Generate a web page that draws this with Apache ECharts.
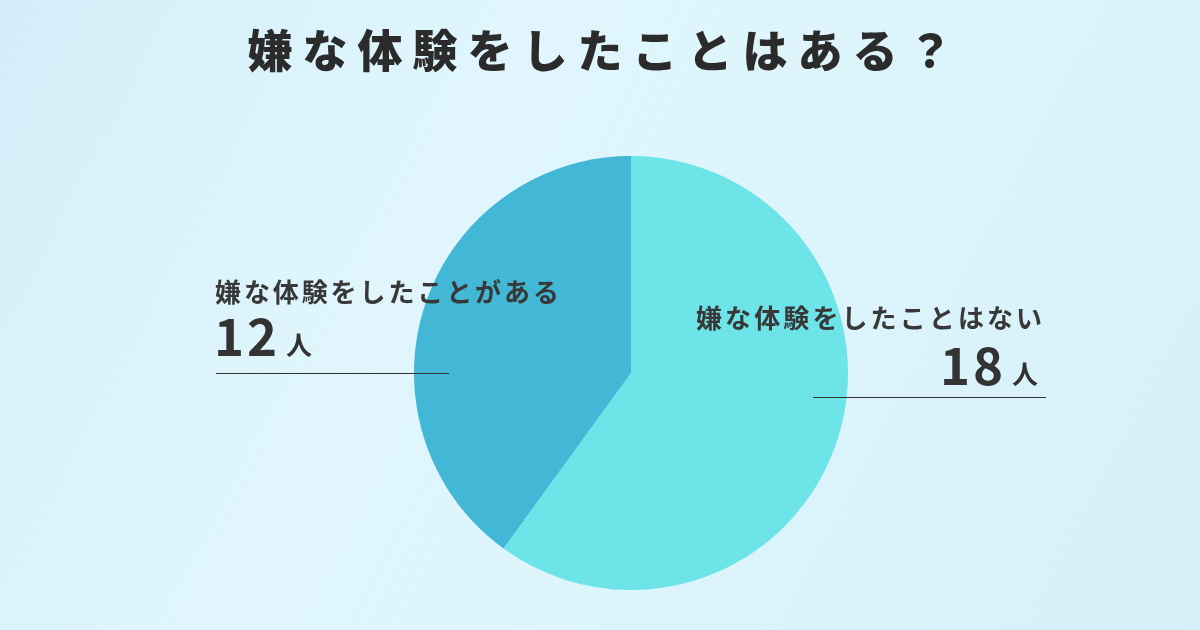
<!DOCTYPE html>
<html>
<head>
<meta charset="utf-8">
<script src="https://cdn.jsdelivr.net/npm/echarts@6/dist/echarts.min.js"></script>
<style>
html,body{margin:0;padding:0;background:#dcf3fa;}
#c{width:1200px;height:630px;}
</style>
</head>
<body>
<div id="c"></div>
<script>
const titleText = '嫌な体験をしたことはある？';
const categories = ['嫌な体験をしたことはない', '嫌な体験をしたことがある'];
const values = [18, 12];
const unit = '人';
const colors = ['#6ce4e8', '#42b8d6'];

function spaced(str, style) {
  return str.split('').map(ch => '{' + style + '|' + ch + '}').join('');
}

const FONT = '"Noto Sans CJK JP", "Noto Sans", sans-serif';
const chart = echarts.init(document.getElementById('c'), null, {renderer: 'canvas'});

const option = {
  backgroundColor: {
    type: 'linear', x: 0, y: 0, x2: 1, y2: 1,
    colorStops: [
      {offset: 0, color: '#d3eef9'},
      {offset: 0.35, color: '#e0f6fc'},
      {offset: 0.65, color: '#dcf4fb'},
      {offset: 1, color: '#d5eff9'}
    ]
  },
  animation: false,
  series: [{
    type: 'pie',
    center: [631, 373],
    radius: 217,
    startAngle: 90,
    clockwise: true,
    z: 1,
    label: {show: false},
    labelLine: {show: false},
    emphasis: {disabled: true},
    itemStyle: {borderWidth: 0},
    data: categories.map((c, i) => ({name: c, value: values[i], itemStyle: {color: colors[i]}}))
  }],
  graphic: {
    elements: [
    {
      type: 'text', left: 'center', top: 28, z: 100,
      style: {
        text: spaced(titleText, 't'),
        rich: {t: {fontFamily: FONT, fontSize: 45, fontWeight: 900, fill: '#2b2b2b', padding: [0, 10, 0, 0]}}
      }
    },
    {
      type: 'text', x: 215, y: 292, z: 100,
      style: {
        text: spaced(categories[1], 'c'),
        textVerticalAlign: 'middle',
        rich: {c: {fontFamily: FONT, fontSize: 26, fontWeight: 700, fill: '#383838', padding: [0, 2.9, 0, 0]}}
      }
    },
    {
      type: 'text', x: 214, y: 337, z: 100,
      style: {
        text: spaced(String(values[1]), 'n'),
        textVerticalAlign: 'middle',
        rich: {n: {fontFamily: FONT, fontSize: 51, fontWeight: 700, fill: '#333333', padding: [0, 3, 0, 0]}}
      }
    },
    {
      type: 'text', x: 286, y: 345, z: 100,
      style: {text: unit, textVerticalAlign: 'middle', font: '700 26px ' + FONT, fill: '#333333'}
    },
    {
      type: 'line', z: 100, shape: {x1: 216, y1: 373.5, x2: 449, y2: 373.5},
      style: {stroke: '#333333', lineWidth: 1}
    },
    {
      type: 'text', x: 696, y: 318, z: 100,
      style: {
        text: spaced(categories[0], 'c'),
        textVerticalAlign: 'middle',
        rich: {c: {fontFamily: FONT, fontSize: 26, fontWeight: 700, fill: '#383838', padding: [0, 3.1, 0, 0]}}
      }
    },
    {
      type: 'text', x: 940, y: 366, z: 100,
      style: {
        text: spaced(String(values[0]), 'n'),
        textVerticalAlign: 'middle',
        rich: {n: {fontFamily: FONT, fontSize: 51, fontWeight: 700, fill: '#333333', padding: [0, 3, 0, 0]}}
      }
    },
    {
      type: 'text', x: 1012, y: 374, z: 100,
      style: {text: unit, textVerticalAlign: 'middle', font: '700 26px ' + FONT, fill: '#333333'}
    },
    {
      type: 'line', z: 100, shape: {x1: 813, y1: 397.5, x2: 1046, y2: 397.5},
      style: {stroke: '#333333', lineWidth: 1}
    }
    ]
  }
};
chart.setOption(option);
</script>
</body>
</html>
